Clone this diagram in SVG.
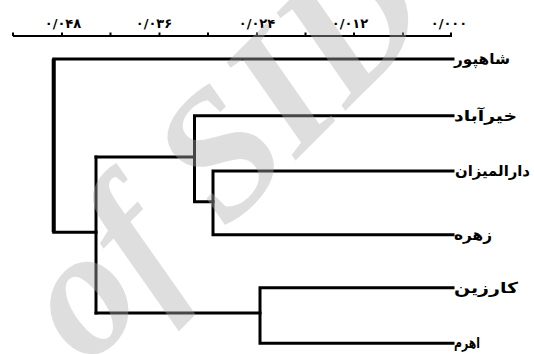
<svg xmlns="http://www.w3.org/2000/svg" width="534" height="354" viewBox="0 0 534 354">
<style>
.ln{stroke:#000;stroke-width:3;fill:none;stroke-linecap:square;stroke-linejoin:miter}
.ax{stroke:#000;stroke-width:2;fill:none}
.tk{stroke:#000;stroke-width:2}
.num{font-family:"DejaVu Sans",sans-serif;font-weight:bold;font-size:13px;text-anchor:middle;fill:#000}
.lab{font-family:"DejaVu Sans",sans-serif;font-weight:bold;font-size:15px;fill:#000}
.wm{font-family:"Liberation Serif",serif;font-style:italic;font-weight:bold;font-size:180px;fill:#afafaf;opacity:0.4}
</style>
<rect width="534" height="354" fill="#fff"/>
<g id="axis">
<line class="ax" x1="13" y1="36" x2="452" y2="36"/>
<g class="tk">
<line x1="13" y1="32.5" x2="13" y2="36"/>
<line x1="62" y1="32.5" x2="62" y2="36"/>
<line x1="110.5" y1="32.5" x2="110.5" y2="36"/>
<line x1="159.5" y1="32.5" x2="159.5" y2="36"/>
<line x1="208" y1="32.5" x2="208" y2="36"/>
<line x1="257" y1="32.5" x2="257" y2="36"/>
<line x1="305.5" y1="32.5" x2="305.5" y2="36"/>
<line x1="354" y1="32.5" x2="354" y2="36"/>
<line x1="403" y1="32.5" x2="403" y2="36"/>
<line x1="451" y1="32.5" x2="451" y2="36"/>
</g>
<text class="num" x="63" y="28">۰/۰۴۸</text>
<text class="num" x="154" y="28">۰/۰۳۶</text>
<text class="num" x="257" y="28">۰/۰۲۴</text>
<text class="num" x="350" y="28">۰/۰۱۲</text>
<text class="num" x="449" y="28">۰/۰۰۰</text>
</g>
<g id="connectors">
<path class="ln" d="M453 59 H53.7 V232.3 H96"/>
<path class="ln" d="M96 157 V313"/>
<path class="ln" d="M96 157 H194.5"/>
<path class="ln" d="M453 115.7 H194.5 V201.7 H213"/>
<path class="ln" d="M453 171 H213 V234.7 H453"/>
<path class="ln" d="M96 313 H260"/>
<path class="ln" d="M453 287.7 H260 V343.3 H453"/>
<line x1="53.7" y1="59" x2="53.7" y2="232.3" stroke="#000" stroke-width="4"/>
</g>
<g id="n1"><text class="lab" x="454" y="64" textLength="56" lengthAdjust="spacingAndGlyphs">شاهپور</text></g>
<g id="n2"><text class="lab" x="454" y="121" textLength="63" lengthAdjust="spacingAndGlyphs">خیرآباد</text></g>
<g id="n3"><text class="lab" x="455" y="176" textLength="75" lengthAdjust="spacingAndGlyphs">دارالمیزان</text></g>
<g id="n4"><text class="lab" x="454" y="240" textLength="38" lengthAdjust="spacingAndGlyphs">زهره</text></g>
<g id="n5"><text class="lab" x="454" y="293" textLength="64" lengthAdjust="spacingAndGlyphs">کارزین</text></g>
<g id="n6"><text class="lab" x="454" y="348" textLength="26" lengthAdjust="spacingAndGlyphs">اهرم</text></g>
<g id="watermark"><text class="wm" x="88" y="368" transform="rotate(-45 88 368)">of SID</text></g>
</svg>
